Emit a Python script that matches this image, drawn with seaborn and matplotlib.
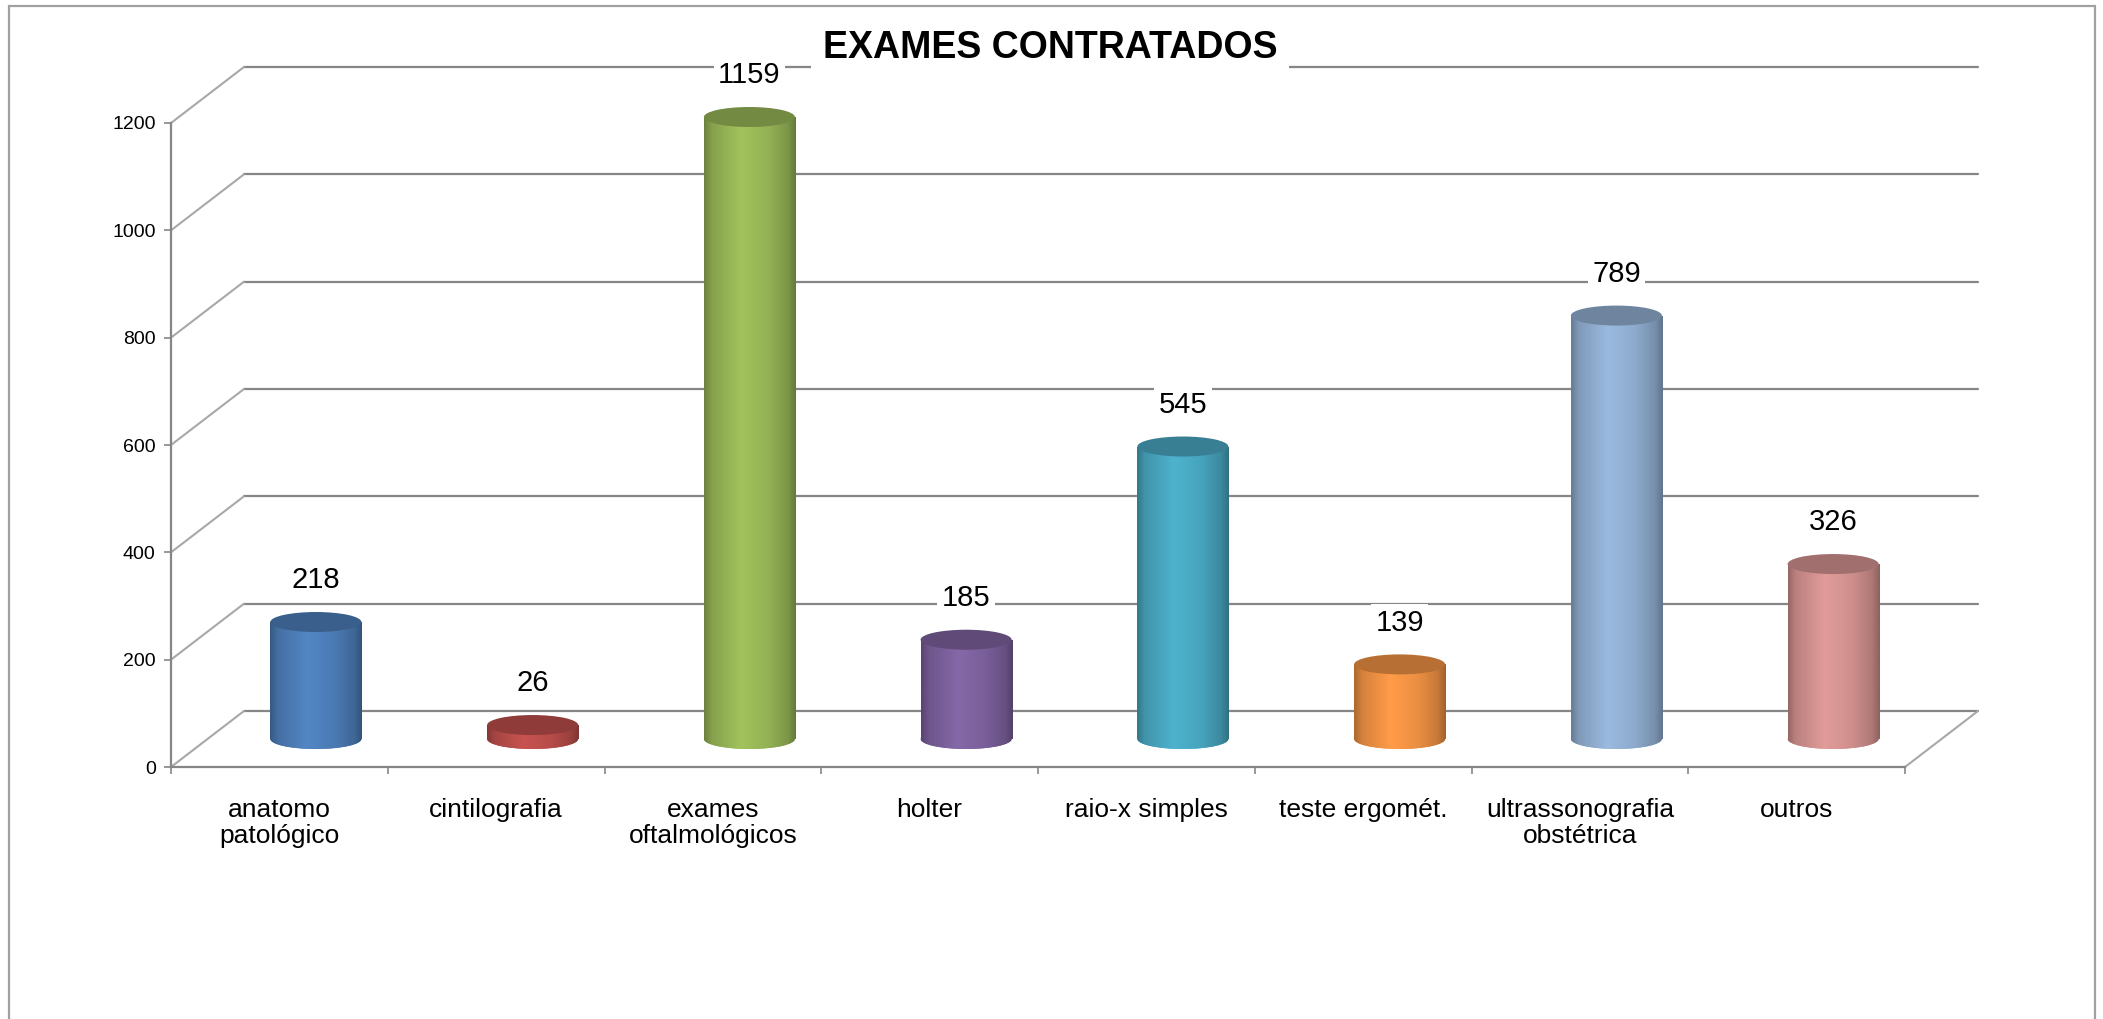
import matplotlib
import numpy as np
import pandas as pd
import seaborn as sns
from matplotlib import colors, font_manager, transforms, pyplot as plt
from matplotlib.patches import Ellipse, Rectangle

# Use the Agg backend, no display here
matplotlib.use("Agg")

# Chart data
CATEGORIES = [
    "anatomo\npatológico",
    "cintilografia",
    "exames\noftalmológicos",
    "holter",
    "raio-x simples",
    "teste ergomét.",
    "ultrassonografia\nobstétrica",
    "outros",
]
VALUES = [218, 26, 1159, 185, 545, 139, 789, 326]
BAR_COLORS = ["#4F81BD", "#C0504D", "#9BBB59", "#8064A2",
              "#4BACC6", "#F79646", "#95B3D7", "#D99694"]
Y_TICKS = [0, 200, 400, 600, 800, 1000, 1200]
TITLE = "EXAMES CONTRATADOS"

# Layout (pixels of the 2103x1019 canvas)
W, H, DPI = 2103, 1019, 100
AX_LEFT, AX_RIGHT, AX_TOP, AX_BOTTOM = 171, 1905, 123, 767
DEPTH_X, DEPTH_Y = 73, 56          # 3d depth of the floor / back wall
GRID_COLOR = "#868686"
DIAG_COLOR = "#a8a8a8"
CYL_WIDTH = 0.42                   # in category units
CYL_CAP_PX = 10                    # half height of the cylinder ellipses

sns.set_style("white")
plt.rcParams["font.family"] = ["Liberation Sans", "DejaVu Sans"]
plt.rcParams["text.color"] = "black"
plt.rcParams["xtick.labelcolor"] = "black"
plt.rcParams["ytick.labelcolor"] = "black"

installed = {f.name for f in font_manager.fontManager.ttflist}
if "Liberation Sans Narrow" in installed:
    title_family, title_size = ["Liberation Sans Narrow", "DejaVu Sans"], 30
else:
    title_family, title_size = ["Liberation Sans", "DejaVu Sans"], 27


def shade(color, factor):
    rgb = np.array(colors.to_rgb(color))
    return np.clip(rgb * factor, 0, 1)


def gradient_row(color, n=64):
    # dark edges, light band left of the middle, like Excel's cylinders
    t = np.linspace(0, 1, n)
    f = np.interp(t, [0, 0.08, 0.4, 0.7, 0.92, 1], [0.70, 0.86, 1.04, 0.95, 0.80, 0.66])
    return np.array([shade(color, k) for k in f])[None, :, :]


fig = plt.figure(figsize=(W / DPI, H / DPI), dpi=DPI)
ax = fig.add_axes([AX_LEFT / W, (H - AX_BOTTOM) / H,
                   (AX_RIGHT - AX_LEFT) / W, (AX_BOTTOM - AX_TOP) / H])

df = pd.DataFrame({"exame": CATEGORIES, "total": VALUES})
sns.barplot(df, x="exame", y="total", hue="exame", palette=BAR_COLORS,
            legend=False, width=CYL_WIDTH, saturation=1, linewidth=0, ax=ax)

ymin, ymax = Y_TICKS[0], Y_TICKS[-1]
ax.set_xlim(-0.5, len(CATEGORIES) - 0.5)
ax.set_ylim(ymin, ymax)
px_per_unit = (AX_BOTTOM - AX_TOP) / (ymax - ymin)
cap_h = 2 * CYL_CAP_PX / px_per_unit

# cylinders stand in the middle of the floor depth
half_off = transforms.ScaledTranslation(DEPTH_X / 2 / DPI, DEPTH_Y / 2 / DPI, fig.dpi_scale_trans)
trans_half = ax.transData + half_off

for bar, color in zip(list(ax.patches), BAR_COLORS):
    x0, w, h = bar.get_x(), bar.get_width(), bar.get_height()
    xc = x0 + w / 2
    bar.set_transform(trans_half)
    bar.set_zorder(2)
    bar.set_clip_on(False)
    grad = gradient_row(color)

    body = ax.imshow(grad, extent=[x0, x0 + w, 0, h], transform=trans_half,
                     aspect="auto", interpolation="bilinear", zorder=2.1)
    body.set_clip_path(bar)

    bottom = Ellipse((xc, 0), w, cap_h, transform=trans_half, facecolor=color,
                     edgecolor="none", zorder=2.0, clip_on=False)
    ax.add_patch(bottom)
    bottom_img = ax.imshow(grad, extent=[x0, x0 + w, -cap_h, cap_h], transform=trans_half,
                           aspect="auto", interpolation="bilinear", zorder=2.05)
    bottom_img.set_clip_path(bottom)
    bottom_img.set_clip_box(None)

    ax.add_patch(Ellipse((xc, h), w, cap_h, transform=trans_half, clip_on=False,
                         facecolor=shade(color, 0.74), edgecolor="none", zorder=2.2))

    ax.annotate(f"{h:.0f}", xy=(xc, h), xycoords=trans_half, xytext=(0, 30),
                textcoords="offset points", ha="center", va="center", fontsize=21,
                bbox=dict(boxstyle="square,pad=0.15", facecolor="white", edgecolor="none"),
                zorder=5, annotation_clip=False)

ax.set_xlim(-0.5, len(CATEGORIES) - 0.5)
ax.set_ylim(ymin, ymax)

# back wall gridlines, side wall diagonals and floor edge
dxa = DEPTH_X / (AX_RIGHT - AX_LEFT)
dya = DEPTH_Y / (AX_BOTTOM - AX_TOP)
for v in Y_TICKS:
    yf = (v - ymin) / (ymax - ymin)
    ax.plot([dxa, 1 + dxa], [yf + dya, yf + dya], transform=ax.transAxes,
            color=GRID_COLOR, lw=1.6, clip_on=False, zorder=0.5)
    ax.plot([0, dxa], [yf, yf + dya], transform=ax.transAxes,
            color=DIAG_COLOR, lw=1.5, clip_on=False, zorder=0.5)
ax.plot([1, 1 + dxa], [0, dya], transform=ax.transAxes,
        color=DIAG_COLOR, lw=1.5, clip_on=False, zorder=0.5)

# axes styling
for side in ["top", "right"]:
    ax.spines[side].set_visible(False)
for side in ["left", "bottom"]:
    ax.spines[side].set_color(GRID_COLOR)
    ax.spines[side].set_linewidth(1.6)
ax.set_xlabel("")
ax.set_ylabel("")
ax.set_yticks(Y_TICKS)
ax.tick_params(axis="y", length=5, width=1.2, color=GRID_COLOR, pad=6, labelsize=14,
               direction="out", left=True)
ax.set_xticks(range(len(CATEGORIES)))
ax.set_xticklabels(CATEGORIES, fontsize=19, linespacing=1.15)
ax.set_xticks(np.arange(len(CATEGORIES) + 1) - 0.5, minor=True)
ax.tick_params(axis="x", which="major", length=0, pad=22)
ax.tick_params(axis="x", which="minor", length=5, width=1.2, color=GRID_COLOR,
               direction="out", bottom=True)
ax.set_facecolor("none")

fig.text(1050 / W, 1 - 48 / H, TITLE, ha="center", va="center", fontsize=title_size,
         fontweight="bold", family=title_family,
         bbox=dict(boxstyle="square,pad=0.3", facecolor="white", edgecolor="none"),
         zorder=10)

# outer chart border (its bottom edge lies below the canvas)
fig.patches.append(Rectangle((9 / W, -0.02), (2095 - 9) / W, 1.02 - 6 / H,
                             transform=fig.transFigure, fill=False,
                             edgecolor="#a0a0a0", lw=1.6))

fig.savefig("out.png", dpi=DPI)
